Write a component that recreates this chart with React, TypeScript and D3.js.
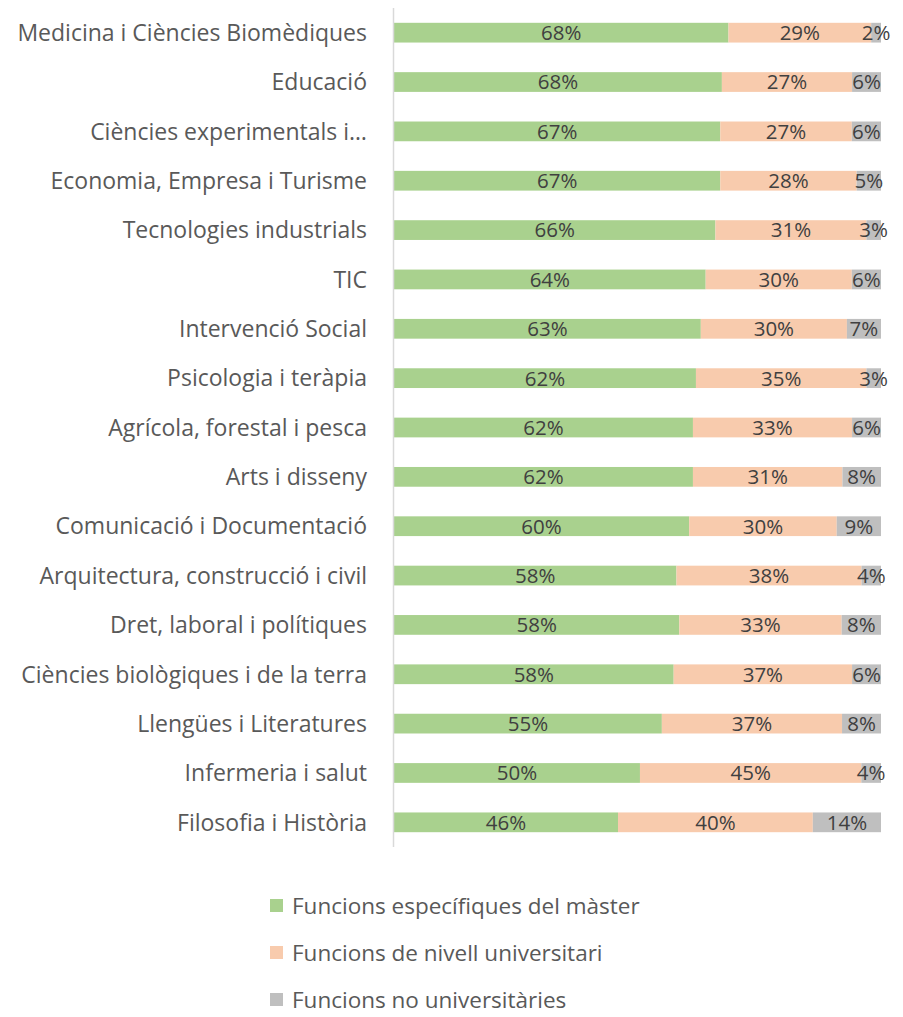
import React from "react";
import * as d3 from "d3";

const categories = [
  "Medicina i Ciències Biomèdiques",
  "Educació",
  "Ciències experimentals i…",
  "Economia, Empresa i Turisme",
  "Tecnologies industrials",
  "TIC",
  "Intervenció Social",
  "Psicologia i teràpia",
  "Agrícola, forestal i pesca",
  "Arts i disseny",
  "Comunicació i Documentació",
  "Arquitectura, construcció i civil",
  "Dret, laboral i polítiques",
  "Ciències biològiques i de la terra",
  "Llengües i Literatures",
  "Infermeria i salut",
  "Filosofia i Història",
];
const specific = [68, 68, 67, 67, 66, 64, 63, 62, 62, 62, 60, 58, 58, 58, 55, 50, 46];
const university = [29, 27, 27, 28, 31, 30, 30, 35, 33, 31, 30, 38, 33, 37, 37, 45, 40];
const nonUniversity = [2, 6, 6, 5, 3, 6, 7, 3, 6, 8, 9, 4, 8, 6, 8, 4, 14];
const seriesNames = [
  "Funcions específiques del màster",
  "Funcions de nivell universitari",
  "Funcions no universitàries",
];
const seriesColors = ["#A9D18E", "#F8CBAD", "#BFBFBF"];

const W = 903;
const H = 1017;
const FONT = "'Open Sans', sans-serif";

export default function App() {
  const rows = categories.map((c, i) => ({
    cat: c,
    s0: specific[i],
    s1: university[i],
    s2: nonUniversity[i],
  }));
  const keys = ["s0", "s1", "s2"];
  const stacked = d3
    .stack<any>()
    .keys(keys)
    .offset(d3.stackOffsetExpand)(rows);

  const x = d3.scaleLinear().domain([0, 1]).range([394, 881]);
  const y = d3
    .scaleBand<string>()
    .domain(categories)
    .range([8, 847])
    .paddingInner(0.6)
    .paddingOuter(0.3);

  const legendY = d3.scalePoint<string>().domain(seriesNames).range([906, 1000]);

  return (
    <svg
      width={W}
      height={H}
      style={{ position: "absolute", left: 0, top: 0, background: "#fff" }}
    >
      {stacked.map((layer, li) => (
        <g key={li}>
          {layer.map((d, i) => (
            <rect
              key={i}
              x={x(d[0])}
              y={y(categories[i])}
              width={x(d[1]) - x(d[0])}
              height={y.bandwidth()}
              fill={seriesColors[li]}
            />
          ))}
        </g>
      ))}
      {stacked.map((layer, li) => (
        <g key={"l" + li}>
          {layer.map((d, i) => (
            <text
              key={i}
              x={(x(d[0]) + x(d[1])) / 2}
              y={(y(categories[i]) as number) + y.bandwidth() / 2}
              dy="0.36em"
              textAnchor="middle"
              fontFamily={FONT}
              fontSize={20.5}
              fill="#404040"
            >
              {(d.data as any)[keys[li]]}%
            </text>
          ))}
        </g>
      ))}
      <line x1={393.5} x2={393.5} y1={8} y2={847} stroke="#D9D9D9" strokeWidth={1.5} />
      {categories.map((c) => (
        <text
          key={c}
          x={367}
          y={(y(c) as number) + y.bandwidth() / 2}
          dy="0.36em"
          textAnchor="end"
          fontFamily={FONT}
          fontSize={23}
          fill="#595959"
        >
          {c}
        </text>
      ))}
      {seriesNames.map((n, i) => (
        <g key={n}>
          <rect x={270} y={(legendY(n) as number) - 7} width={13} height={13} fill={seriesColors[i]} />
          <text
            x={292}
            y={legendY(n) as number}
            dy="0.36em"
            fontFamily={FONT}
            fontSize={22.5}
            fill="#595959"
          >
            {n}
          </text>
        </g>
      ))}
    </svg>
  );
}
